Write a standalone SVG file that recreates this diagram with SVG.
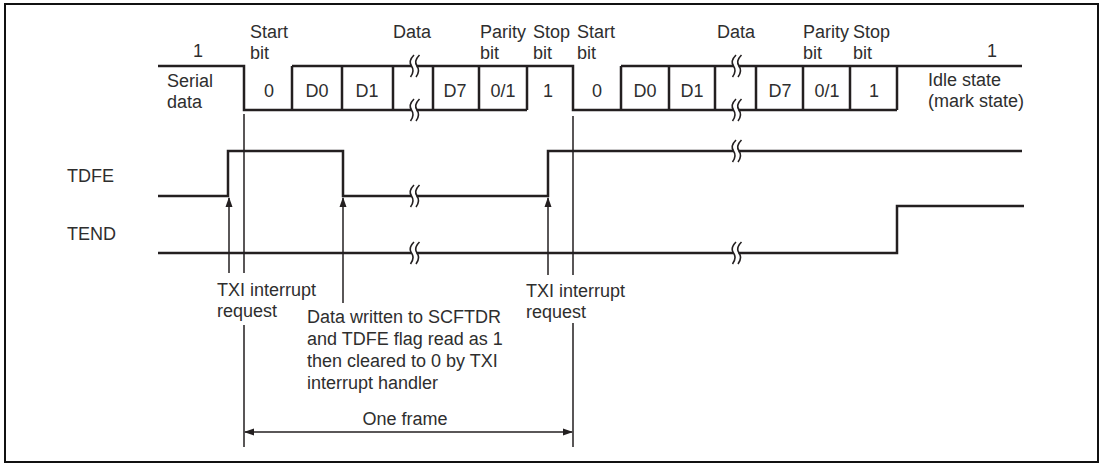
<svg xmlns="http://www.w3.org/2000/svg" width="1103" height="465" viewBox="0 0 1103 465">
<style>
text{font-family:"Liberation Sans",Arial,sans-serif;font-size:18px;fill:#2e2e2e}
.m{text-anchor:middle}
.sig{fill:none;stroke:#231f20;stroke-width:2.5;stroke-linejoin:miter}
.thin{fill:none;stroke:#231f20;stroke-width:1.5}
.brk{fill:none;stroke:#231f20;stroke-width:1.6}
</style>
<defs>
<marker id="ah" markerUnits="userSpaceOnUse" markerWidth="10" markerHeight="8" refX="9" refY="3.5" orient="auto-start-reverse" viewBox="0 0 10 7">
<path d="M0,0 L10,3.5 L0,7 Z" fill="#231f20"/>
</marker>
<g id="bk">
<rect x="-2.5" y="-2.5" width="5" height="5" fill="#fff"/>
<path class="brk" d="M0,-11 Q-6,-5 -2.5,0 T-3.5,11"/>
<path class="brk" d="M5.5,-11 Q-0.5,-5 3,0 T2,11"/>
</g>
</defs>
<rect x="5" y="4" width="1093" height="458" fill="#fff" stroke="#111" stroke-width="2"/>

<g id="serial-data">
<path class="sig" d="M158,66 H244 V110 H527"/>
<path class="sig" d="M292,66 H573 V110 H897"/>
<path class="sig" d="M621,66 H1022"/>
<path class="sig" d="M292,66 V110 M342,66 V110 M393,66 V110 M433,66 V110 M479,66 V110 M527,66 V110"/>
<path class="sig" d="M621,66 V110 M669,66 V110 M715,66 V110 M756,66 V110 M803,66 V110 M850,66 V110 M897,66 V110"/>
<use href="#bk" x="414" y="66"/>
<use href="#bk" x="414" y="110"/>
<use href="#bk" x="736" y="66"/>
<use href="#bk" x="736" y="110"/>
</g>

<g id="tdfe">
<path class="sig" d="M158,196 H228 V151 H343 V196 H548 V151 H1022"/>
<use href="#bk" x="414" y="196"/>
<use href="#bk" x="736" y="151"/>
</g>

<g id="tend">
<path class="sig" d="M158,253 H897 V206 H1024"/>
<use href="#bk" x="414" y="253"/>
<use href="#bk" x="736" y="253"/>
</g>

<g id="connectors">
<path class="thin" d="M244,114 V273 M244,325 V447"/>
<path class="thin" d="M573,116 V275 M573,323 V447"/>
<path class="thin" d="M229,273 V198" marker-end="url(#ah)"/>
<path class="thin" d="M343,303 V198" marker-end="url(#ah)"/>
<path class="thin" d="M548,275 V198" marker-end="url(#ah)"/>
<path class="thin" d="M245,432 H572" marker-start="url(#ah)" marker-end="url(#ah)"/>
</g>

<g id="labels-top">
<text class="m" x="198" y="57">1</text>
<text x="250" y="38">Start</text>
<text x="250" y="59">bit</text>
<text x="393" y="38">Data</text>
<text x="480" y="38">Parity</text>
<text x="480" y="59">bit</text>
<text x="533" y="38">Stop</text>
<text x="533" y="59">bit</text>
<text x="577" y="38">Start</text>
<text x="577" y="59">bit</text>
<text x="717" y="38">Data</text>
<text x="803" y="38">Parity</text>
<text x="803" y="59">bit</text>
<text x="853" y="38">Stop</text>
<text x="853" y="59">bit</text>
<text class="m" x="992" y="57">1</text>
<text x="167" y="87">Serial</text>
<text x="167" y="108">data</text>
<text x="928" y="86">Idle state</text>
<text x="928" y="107">(mark state)</text>
</g>

<g id="bit-labels">
<text class="m" x="269" y="97">0</text>
<text class="m" x="317" y="97">D0</text>
<text class="m" x="367" y="97">D1</text>
<text class="m" x="455" y="97">D7</text>
<text class="m" x="503" y="97">0/1</text>
<text class="m" x="548" y="97">1</text>
<text class="m" x="597" y="97">0</text>
<text class="m" x="645" y="97">D0</text>
<text class="m" x="692" y="97">D1</text>
<text class="m" x="780" y="97">D7</text>
<text class="m" x="827" y="97">0/1</text>
<text class="m" x="874" y="97">1</text>
</g>

<g id="signal-names">
<text x="67" y="182">TDFE</text>
<text x="67" y="240">TEND</text>
</g>

<g id="notes">
<text x="217" y="296">TXI interrupt</text>
<text x="217" y="317">request</text>
<text x="307" y="323">Data written to SCFTDR</text>
<text x="307" y="345">and TDFE flag read as 1</text>
<text x="307" y="367">then cleared to 0 by TXI</text>
<text x="307" y="389">interrupt handler</text>
<text x="526" y="297">TXI interrupt</text>
<text x="526" y="318">request</text>
<text class="m" x="405" y="425">One frame</text>
</g>
</svg>
